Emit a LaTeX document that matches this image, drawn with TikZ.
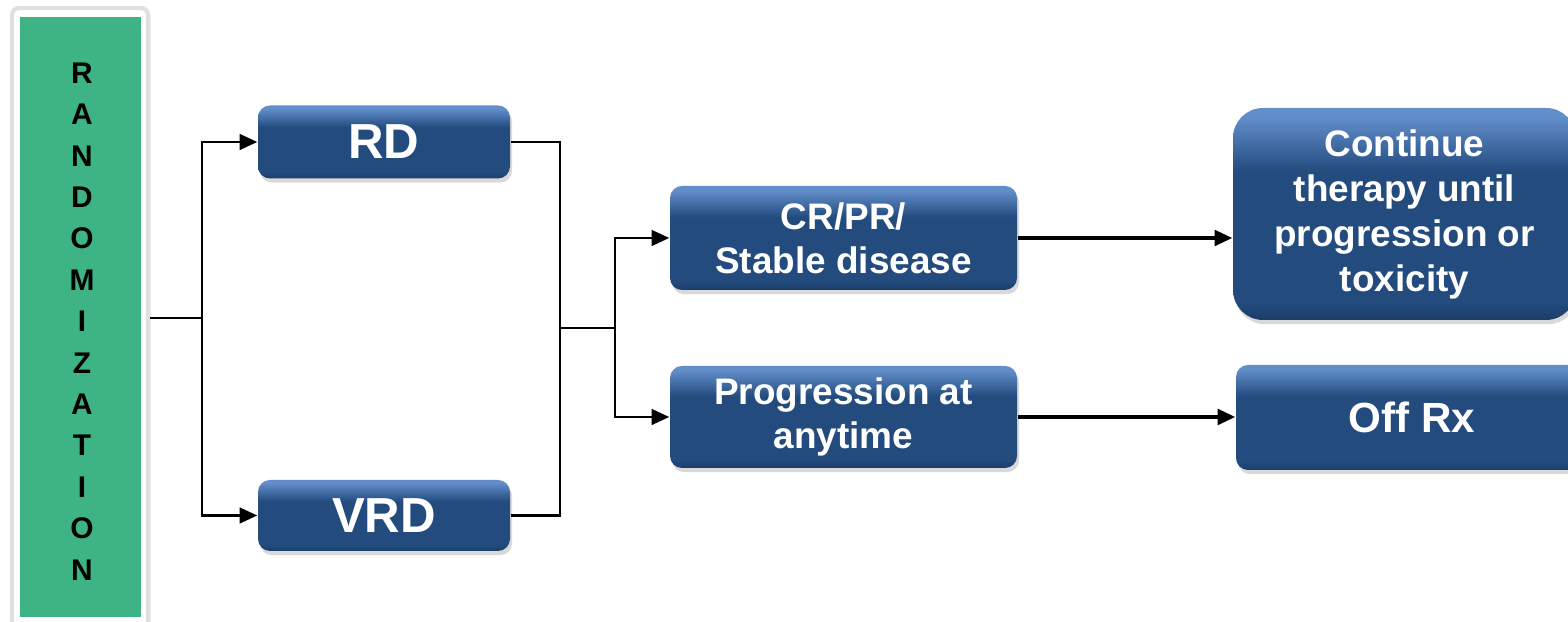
\documentclass[tikz,border=0pt]{standalone}
\usepackage{fontspec}
\setmainfont{Liberation Sans}
\usetikzlibrary{arrows.meta,shadows}
\definecolor{boxblue}{RGB}{35,75,126}
\definecolor{boxdark}{RGB}{27,60,104}
\definecolor{boxlight}{RGB}{98,142,202}
\definecolor{randgreen}{RGB}{62,180,133}
\pgfdeclareverticalshading{boxbevel}{100bp}{color(0bp)=(boxdark); color(25bp)=(boxdark); color(29bp)=(boxblue); color(60bp)=(boxblue); color(73bp)=(boxlight); color(100bp)=(boxlight)}
\tikzset{
  armbox/.style={rounded corners=0.12cm, shading=boxbevel, text=white, font=\bfseries,
    align=center, inner sep=0pt,
    drop shadow={opacity=0.3, shadow xshift=0.6pt, shadow yshift=-1.2pt}},
  link/.style={thick, -{Triangle[length=5pt,width=4.4pt]}},
}
\begin{document}
\begin{tikzpicture}
\useasboundingbox (0,0) rectangle (15.68,6.22);
% randomization column
\node[fill=white, draw=black!12, line width=1.2pt, rounded corners=2pt, minimum width=1.36cm, minimum height=6.24cm,
  drop shadow={opacity=0.15, shadow xshift=0.8pt, shadow yshift=-0.8pt}] (randframe) at (0.80,3.02) {};
\node[fill=randgreen, minimum width=1.21cm, minimum height=6.0cm, inner sep=0pt] (rand) at (0.805,3.05) {};
\foreach \ch [count=\i from 0] in {R,A,N,D,O,M,I,Z,A,T,I,O,N}
  \node[font=\fontsize{8.5}{9}\selectfont\bfseries] (ltr\i) at (0.82,{5.49-0.414*\i}) {\ch};
% treatment arms
\node[armbox, minimum width=2.52cm, minimum height=0.73cm, font=\fontsize{14}{16}\selectfont\bfseries] (rd) at (3.84,4.80) {RD};
\node[armbox, minimum width=2.52cm, minimum height=0.71cm, font=\fontsize{14}{16}\selectfont\bfseries] (vrd) at (3.84,1.065) {VRD};
% response
\node[armbox, minimum width=3.47cm, minimum height=1.04cm, font=\fontsize{10.5}{12.6}\selectfont\bfseries] (cr) at (8.435,3.84) {CR/PR/\\Stable disease};
\node[armbox, minimum width=3.47cm, minimum height=1.02cm, font=\fontsize{10.5}{12.6}\selectfont\bfseries] (prog) at (8.435,2.05) {Progression at\\anytime};
% outcome
\node[armbox, rounded corners=0.3cm, minimum width=3.43cm, minimum height=2.12cm, font=\fontsize{10.5}{12.8}\selectfont\bfseries] (cont) at (14.045,4.08) {Continue\\therapy until\\progression or\\toxicity};
\node[armbox, minimum width=3.52cm, minimum height=1.05cm, font=\fontsize{12}{14}\selectfont\bfseries] (offrx) at (14.12,2.045) {Off Rx};
% connectors
\coordinate (fork) at (2.02,3.04);
\draw[thick] (randframe.east |- fork) -- (fork);
\draw[link] (fork) |- (rd.west);
\draw[link] (fork) |- (vrd.west);
\coordinate (join) at (5.60,2.94);
\coordinate (fork2) at (6.15,2.94);
\draw[thick] (rd.east) -| (join);
\draw[thick] (vrd.east) -| (join);
\draw[thick] (join) -- (fork2);
\draw[link] (fork2) |- (cr.west);
\draw[link] (fork2) |- (prog.west);
\draw[link, line width=1pt] (cr.east) -- (cr.east -| cont.west);
\draw[link, line width=1pt] (prog.east) -- (prog.east -| offrx.west);
\end{tikzpicture}
\end{document}
